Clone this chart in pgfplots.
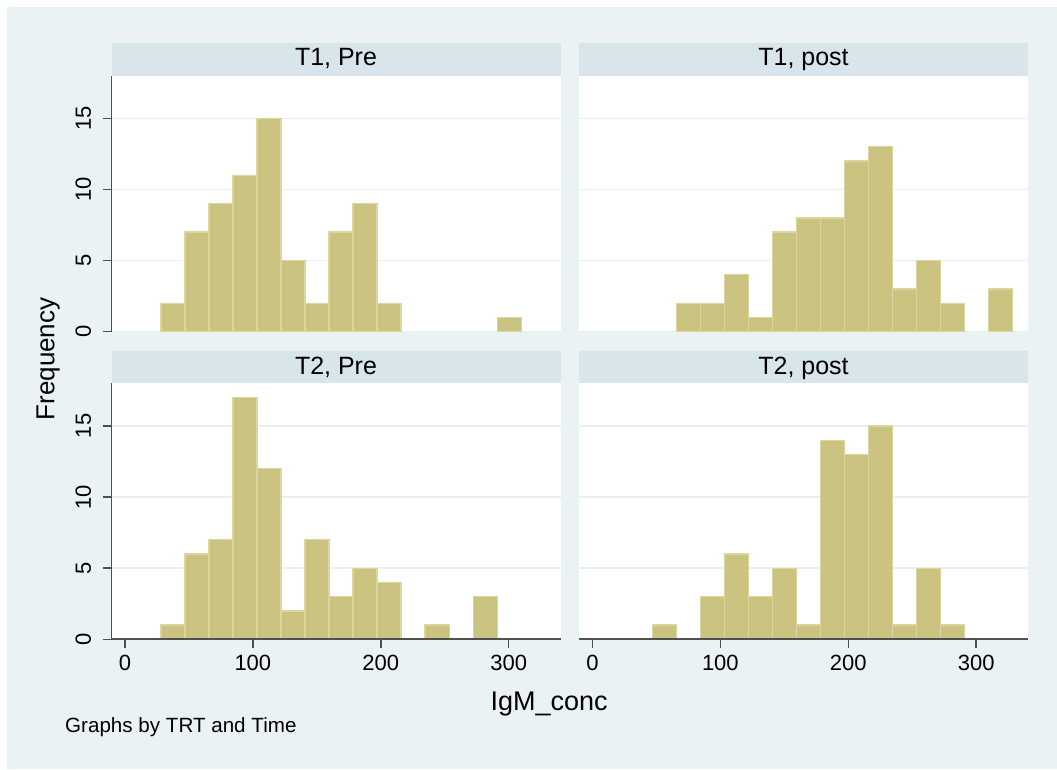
\documentclass[border=0pt]{standalone}
\usepackage{pgfplots}
\pgfplotsset{compat=1.18}
\usepackage{fontspec}
\setmainfont{Liberation Sans}
\definecolor{bgc}{RGB}{234,242,243}
\definecolor{stripc}{RGB}{216,229,234}
\definecolor{barc}{RGB}{203,196,128}
\definecolor{barl}{RGB}{219,213,160}
\definecolor{gridc}{RGB}{232,240,242}
\definecolor{axiscol}{RGB}{80,80,80}
\pgfplotsset{
  panel/.style={
    scale only axis, width=449pt, height=256pt, anchor=south west,
    xmin=-10.5, xmax=340.5, ymin=0, ymax=18,
    axis line style={draw=none},
    axis background/.style={fill=white},
    ytick={0,5,10,15}, xtick={0,100,200,300},
    xtick pos=bottom, ytick pos=left,
    ymajorgrids, major grid style={draw=gridc, line width=1.6pt},
    tick style={draw=none},
    tick align=outside, major tick length=8pt,
    ticklabel style={font=\fontsize{22}{22}\selectfont},
    /pgf/number format/assume math mode=true,
    xticklabel style={yshift=-4pt},
    yticklabel style={rotate=90, anchor=south, yshift=9pt},
    ybar, bar width=18.78, bar shift=0pt,
  },
  noxaxis/.style={xtick=\empty},
  noyaxis/.style={yticklabels={}},
  hbar/.style={fill=barc, draw=barl, line width=1.3pt},
}
\begin{document}
\begin{tikzpicture}[x=1pt,y=1pt]
\fill[white] (0,0) rectangle (1057,769);
\fill[bgc] (7,0) rectangle (1057,762);
% strips
\fill[stripc] (111.5,693) rectangle (560.5,725.7);
\fill[stripc] (579,693) rectangle (1028,725.7);
\fill[stripc] (111.5,385.7) rectangle (560.5,418.3);
\fill[stripc] (579,385.7) rectangle (1028,418.3);
\node[anchor=base, font=\fontsize{25}{25}\selectfont] at (336,703) {T1, Pre};
\node[anchor=base, font=\fontsize{25}{25}\selectfont] at (803.5,703) {T1, post};
\node[anchor=base, font=\fontsize{25}{25}\selectfont] at (336,394.7) {T2, Pre};
\node[anchor=base, font=\fontsize{25}{25}\selectfont] at (803.5,394.7) {T2, post};

% T1, Pre
\begin{axis}[panel, noxaxis, at={(111.5pt,437.3pt)}]
\addplot[hbar] coordinates {(37.49,2) (56.27,7) (75.05,9) (93.83,11) (112.61,15) (131.39,5) (150.17,2) (168.95,7) (187.73,9) (206.51,2) (300.41,1)};
\end{axis}
% T1, post
\begin{axis}[panel, noxaxis, noyaxis, at={(579pt,437.3pt)}]
\addplot[hbar] coordinates {(75.05,2) (93.83,2) (112.61,4) (131.39,1) (150.17,7) (168.95,8) (187.73,8) (206.51,12) (225.29,13) (244.07,3) (262.85,5) (281.63,2) (319.19,3)};
\end{axis}
% T2, Pre
\begin{axis}[panel, at={(111.5pt,129.7pt)}]
\addplot[hbar] coordinates {(37.49,1) (56.27,6) (75.05,7) (93.83,17) (112.61,12) (131.39,2) (150.17,7) (168.95,3) (187.73,5) (206.51,4) (244.07,1) (281.63,3)};
\end{axis}
% T2, post
\begin{axis}[panel, noyaxis, at={(579pt,129.7pt)}]
\addplot[hbar] coordinates {(56.27,1) (93.83,3) (112.61,6) (131.39,3) (150.17,5) (168.95,1) (187.73,14) (206.51,13) (225.29,15) (244.07,1) (262.85,5) (281.63,1)};
\end{axis}

% axis lines and ticks
\draw[color=axiscol, line width=1.8pt] (111.5,437.3) -- (111.5,693.3);
\draw[color=axiscol, line width=1.8pt] (111.5,129.7) -- (111.5,385.7);
\draw[color=axiscol, line width=1.8pt] (111.5,129.7) -- (560.5,129.7);
\draw[color=axiscol, line width=1.8pt] (579,129.7) -- (1028,129.7);
\foreach \yy in {437.3,508.4,579.5,650.6,129.7,200.8,271.9,343.0} {\draw[color=axiscol, line width=1.5pt] (111.5,\yy) -- (103,\yy);}
\foreach \xx in {124.93,252.85,380.77,508.69,592.43,720.35,848.27,976.19} {\draw[color=axiscol, line width=1.5pt] (\xx,129.7) -- (\xx,121.2);}

\node[rotate=90, anchor=base, font=\fontsize{26}{26}\selectfont] at (54.3,410) {Frequency};
\node[anchor=base, font=\fontsize{27}{27}\selectfont] at (549.2,58.3) {IgM\_conc};
\node[anchor=base west, inner sep=0pt, font=\fontsize{20.6}{20.6}\selectfont] at (65,36.7) {Graphs by TRT and Time};
\end{tikzpicture}
\end{document}
